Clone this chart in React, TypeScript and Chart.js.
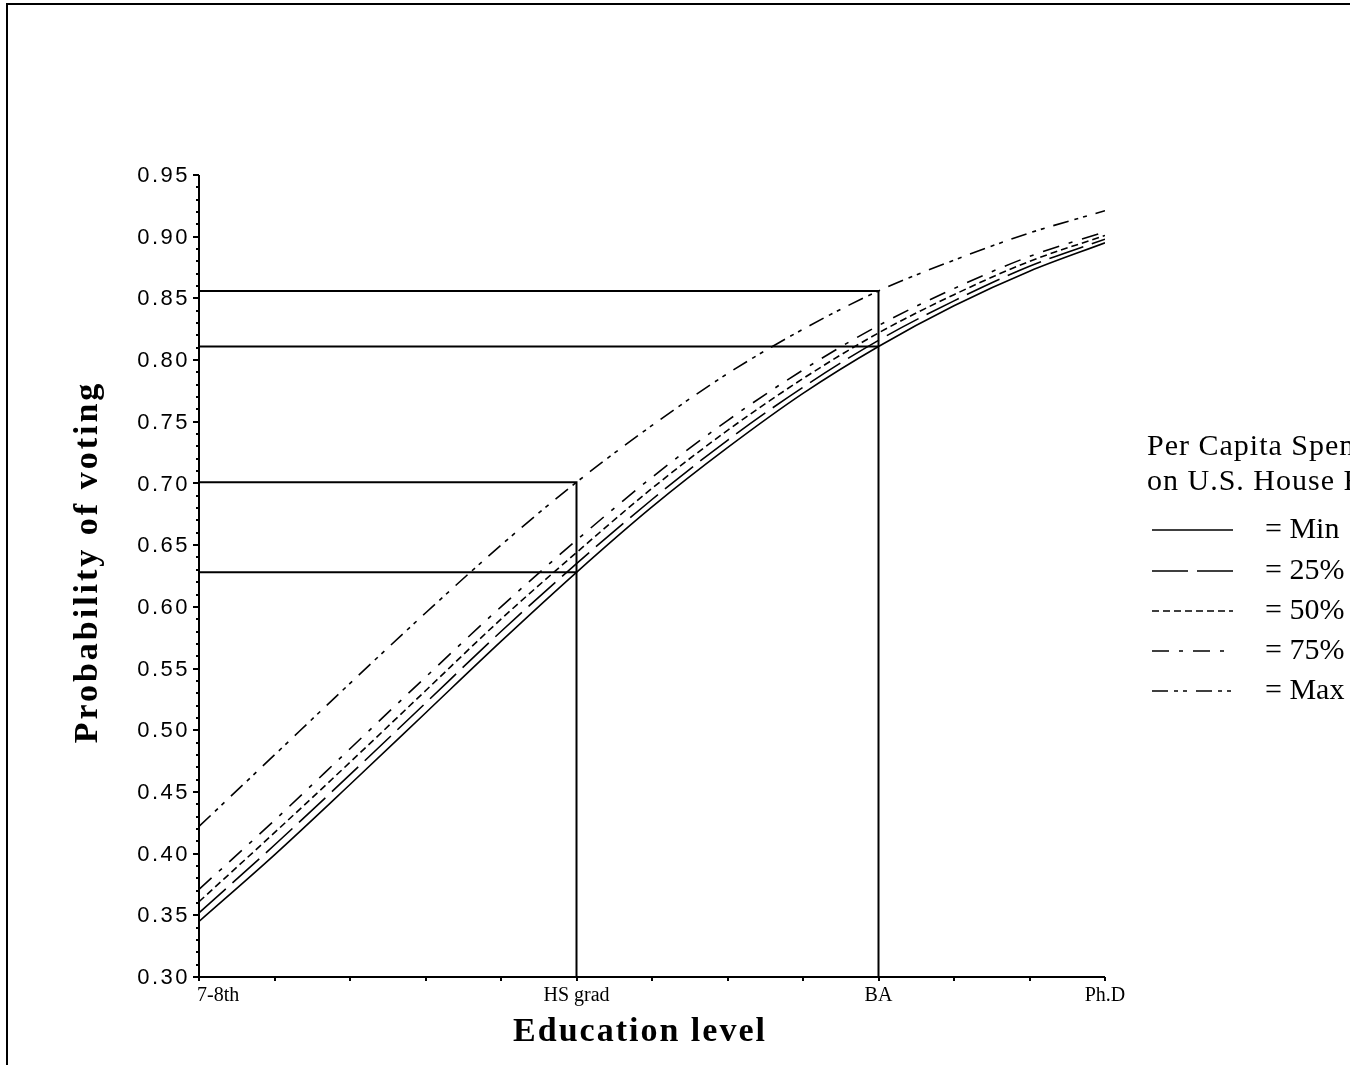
import React, { useEffect, useRef } from "react";
import { Chart, registerables } from "chart.js";

Chart.register(...registerables);

// ---------- data ----------
const eduPositions = [0, 1, 2, 3, 4, 5, 6, 7, 8, 9, 10, 11, 12];
const xTickPositions = [0, 5, 9, 12];
const xTickLabels = ["7-8th", "HS grad", "BA", "Ph.D"];
const yTickValues = [0.3, 0.35, 0.4, 0.45, 0.5, 0.55, 0.6, 0.65, 0.7, 0.75, 0.8, 0.85, 0.9, 0.95];

const minVals = [0.345, 0.399, 0.456, 0.514, 0.572, 0.628, 0.681, 0.729, 0.773, 0.811, 0.844, 0.872, 0.895];
const p25Vals = [0.352, 0.407, 0.464, 0.522, 0.58, 0.635, 0.687, 0.735, 0.778, 0.816, 0.848, 0.876, 0.898];
const p50Vals = [0.361, 0.417, 0.474, 0.532, 0.59, 0.644, 0.696, 0.743, 0.785, 0.822, 0.853, 0.88, 0.901];
const p75Vals = [0.371, 0.427, 0.485, 0.543, 0.6, 0.654, 0.705, 0.751, 0.792, 0.828, 0.858, 0.884, 0.904];
const maxVals = [0.422, 0.48, 0.538, 0.595, 0.65, 0.701, 0.747, 0.789, 0.825, 0.856, 0.881, 0.903, 0.921];

const seriesLabels = ["= Min", "= 25%", "= 50%", "= 75%", "= Max"];
const legendTitle = ["Per Capita Spending", "on U.S. House Races"];
const xTitle = "Education level";
const yTitle = "Probability of voting";
const hsIndex = 5;
const baIndex = 9;

// ---------- styles ----------
const seriesDashes: number[][] = [[], [36, 9], [7, 4], [17, 10, 4, 10], [16, 6, 4, 5, 4, 9]];
const SERIF = "'Liberation Serif', 'Times New Roman', 'DejaVu Serif', serif";
const SANS = "'Liberation Sans', Arial, 'DejaVu Sans', sans-serif";
const CW = 1500;
const CH = 1065;

const allSeries = [minVals, p25Vals, p50Vals, p75Vals, maxVals];

const decorPlugin = {
  id: "decor",
  afterDraw(chart: any) {
    const ctx: CanvasRenderingContext2D = chart.ctx;
    const xs = chart.scales.x;
    const ys = chart.scales.y;
    const left = xs.getPixelForValue(eduPositions[0]);
    const right = xs.getPixelForValue(eduPositions[eduPositions.length - 1]);
    const bottom = ys.getPixelForValue(yTickValues[0]);
    const top = ys.getPixelForValue(yTickValues[yTickValues.length - 1]);
    ctx.save();
    ctx.strokeStyle = "#000";
    ctx.fillStyle = "#000";
    ctx.setLineDash([]);
    // axes
    ctx.lineWidth = 2;
    ctx.beginPath();
    ctx.moveTo(left, top);
    ctx.lineTo(left, bottom);
    ctx.lineTo(right, bottom);
    ctx.stroke();
    // y ticks (minor every 0.01)
    for (let k = 30; k <= 95; k++) {
      const y = Math.round(ys.getPixelForValue(k / 100));
      const len = k % 5 === 0 ? 6 : 3;
      ctx.beginPath();
      ctx.moveTo(left - len, y);
      ctx.lineTo(left, y);
      ctx.stroke();
    }
    // x ticks
    for (const p of eduPositions) {
      const x = Math.round(xs.getPixelForValue(p));
      ctx.beginPath();
      ctx.moveTo(x, bottom);
      ctx.lineTo(x, bottom + 4);
      ctx.stroke();
    }
    // y labels
    ctx.font = `22px ${SANS}`;
    (ctx as any).letterSpacing = "2.5px";
    ctx.textAlign = "right";
    ctx.textBaseline = "middle";
    for (const v of yTickValues) {
      ctx.fillText(v.toFixed(2), left - 9, ys.getPixelForValue(v) + 1);
    }
    (ctx as any).letterSpacing = "0px";
    // x labels
    ctx.font = `20px ${SERIF}`;
    ctx.textBaseline = "top";
    xTickPositions.forEach((p, i) => {
      ctx.textAlign = i === 0 ? "left" : "center";
      ctx.fillText(xTickLabels[i], xs.getPixelForValue(p) + (i === 0 ? -2 : 0), bottom + 9);
    });
    // axis titles
    ctx.font = `bold 34px ${SERIF}`;
    (ctx as any).letterSpacing = "2px";
    ctx.textAlign = "center";
    ctx.textBaseline = "middle";
    ctx.fillText(xTitle, 640, 1032);
    ctx.save();
    ctx.translate(88, 562);
    ctx.rotate(-Math.PI / 2);
    (ctx as any).letterSpacing = "3px";
    ctx.fillText(yTitle, 0, 0);
    ctx.restore();
    // legend
    ctx.font = `30px ${SERIF}`;
    (ctx as any).letterSpacing = "1px";
    ctx.textAlign = "left";
    ctx.textBaseline = "middle";
    ctx.fillText(legendTitle[0], 1147, 447);
    ctx.fillText(legendTitle[1], 1147, 482);
    (ctx as any).letterSpacing = "0px";
    const rowY = [530, 571, 611, 651, 691];
    seriesLabels.forEach((lab, i) => {
      ctx.lineWidth = 1.6;
      ctx.setLineDash(seriesDashes[i]);
      ctx.beginPath();
      ctx.moveTo(1152, rowY[i]);
      ctx.lineTo(1233, rowY[i]);
      ctx.stroke();
      ctx.setLineDash([]);
      ctx.fillText(lab, 1265, rowY[i]);
    });
    ctx.restore();
  },
};

export default function App() {
  const ref = useRef<HTMLCanvasElement | null>(null);
  useEffect(() => {
    if (!ref.current) return;
    const seriesSets = allSeries.map((vals, i) => ({
      label: seriesLabels[i],
      data: eduPositions.map((x, j) => ({ x, y: vals[j] })),
      borderColor: "#000",
      borderWidth: 1.6,
      borderDash: seriesDashes[i],
      pointRadius: 0,
      fill: false,
      cubicInterpolationMode: "monotone" as const,
    }));
    const refLine = (pts: { x: number; y: number }[]) => ({
      label: "ref",
      data: pts,
      borderColor: "#000",
      borderWidth: 2,
      pointRadius: 0,
      fill: false,
      tension: 0,
    });
    const yMin = yTickValues[0];
    const x0 = eduPositions[0];
    const refSets = [
      refLine([
        { x: x0, y: maxVals[hsIndex] },
        { x: eduPositions[hsIndex], y: maxVals[hsIndex] },
        { x: eduPositions[hsIndex], y: yMin },
      ]),
      refLine([
        { x: x0, y: minVals[hsIndex] },
        { x: eduPositions[hsIndex], y: minVals[hsIndex] },
      ]),
      refLine([
        { x: x0, y: maxVals[baIndex] },
        { x: eduPositions[baIndex], y: maxVals[baIndex] },
        { x: eduPositions[baIndex], y: yMin },
      ]),
      refLine([
        { x: x0, y: minVals[baIndex] },
        { x: eduPositions[baIndex], y: minVals[baIndex] },
      ]),
    ];
    const chart = new Chart(ref.current, {
      type: "line",
      data: { datasets: [...refSets, ...seriesSets] as any },
      options: {
        responsive: false,
        animation: false,
        events: [],
        layout: { padding: { left: 199, top: 175, right: CW - 1105, bottom: CH - 977 } },
        plugins: { legend: { display: false }, tooltip: { enabled: false }, title: { display: false } },
        scales: {
          x: { type: "linear", min: eduPositions[0], max: eduPositions[eduPositions.length - 1], display: false },
          y: { type: "linear", min: yTickValues[0], max: yTickValues[yTickValues.length - 1], display: false },
        },
      },
      plugins: [decorPlugin],
    });
    return () => chart.destroy();
  }, []);

  return (
    <div
      style={{
        position: "absolute",
        left: 0,
        top: 0,
        width: 1362,
        height: 1065,
        overflow: "hidden",
        background: "#fff",
      }}
    >
      <div style={{ position: "absolute", left: 0, top: 0, width: 1350, height: 1065, overflow: "hidden" }}>
        <canvas ref={ref} width={CW} height={CH} style={{ width: CW, height: CH, display: "block" }} />
        <div
          style={{
            position: "absolute",
            left: 6,
            top: 3,
            width: 2000,
            height: 2000,
            borderLeft: "2px solid #000",
            borderTop: "2px solid #000",
            pointerEvents: "none",
          }}
        />
      </div>
    </div>
  );
}
